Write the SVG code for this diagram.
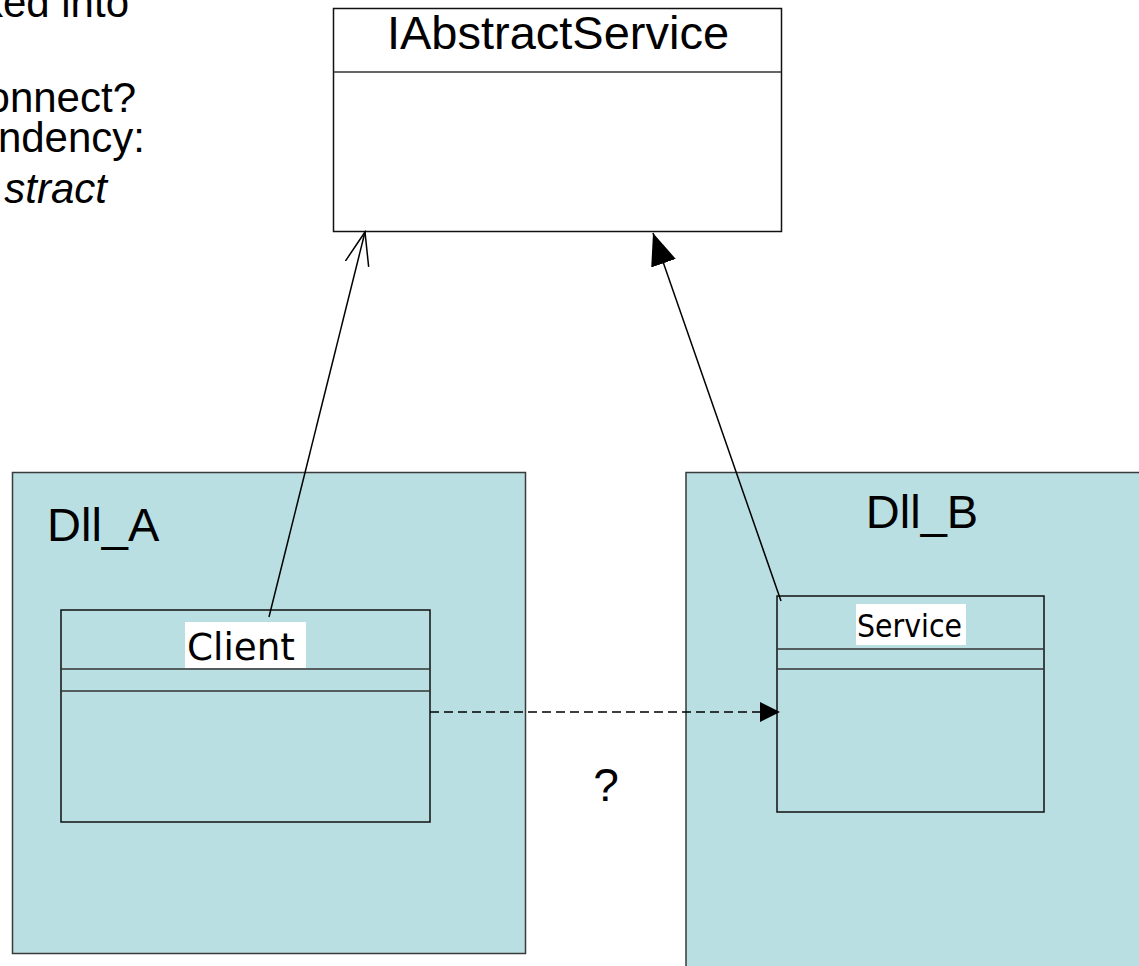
<svg xmlns="http://www.w3.org/2000/svg" width="1139" height="966" viewBox="0 0 1139 966">
<style>
.pkg{fill:#badfe2;stroke:#3a3a3a;stroke-width:1.5}
.cls{fill:none;stroke:#111;stroke-width:1.5}
.sep{stroke:#333;stroke-width:1.5}
.lbl{font-family:"Liberation Sans",Arial,sans-serif;fill:#000}
.dv{font-family:"DejaVu Sans",sans-serif;fill:#000}
.edge{fill:none;stroke:#000;stroke-width:1.5}
</style>
<defs>
<marker id="filled" markerUnits="userSpaceOnUse" markerWidth="34" markerHeight="28" refX="32" refY="13" orient="auto">
<path d="M0,0 L32,13 L0,26 Z" fill="#000"/>
</marker>
<marker id="open" markerUnits="userSpaceOnUse" markerWidth="36" markerHeight="30" refX="33" refY="15" orient="auto">
<path d="M0,3 L33,15 L0,27" fill="none" stroke="#000" stroke-width="1.5"/>
</marker>
<marker id="small" markerUnits="userSpaceOnUse" markerWidth="22" markerHeight="22" refX="20" refY="10" orient="auto">
<path d="M0,0 L20,10 L0,20 Z" fill="#000"/>
</marker>
</defs>
<rect width="1139" height="966" fill="#fff"/>
<g id="note">
<text class="lbl" x="129" y="17" font-size="42" text-anchor="end">ked into</text>
<text class="lbl" x="136" y="112" font-size="42" text-anchor="end">onnect?</text>
<text class="lbl" x="145" y="152" font-size="42" text-anchor="end">ndency:</text>
<text class="lbl" x="107" y="203" font-size="42" font-style="italic" text-anchor="end">stract</text>
</g>
<g id="IAbstractService">
<rect x="333.5" y="8.5" width="448" height="223" fill="#fff" stroke="#111" stroke-width="1.5"/>
<line class="sep" x1="333.5" y1="72" x2="781.5" y2="72"/>
<text class="lbl" x="558" y="49" font-size="47" text-anchor="middle">IAbstractService</text>
</g>
<g id="Dll_A">
<rect class="pkg" x="12.5" y="472.5" width="513" height="481"/>
<text class="lbl" x="47" y="541" font-size="47">Dll_A</text>
</g>
<g id="Dll_B">
<rect class="pkg" x="686" y="472.5" width="470" height="510"/>
<text class="lbl" x="922" y="528" font-size="47" text-anchor="middle">Dll_B</text>
</g>
<g id="Client">
<rect class="cls" x="61" y="610" width="369" height="212"/>
<line class="sep" x1="61" y1="669" x2="430" y2="669"/>
<line class="sep" x1="61" y1="691" x2="430" y2="691"/>
<rect x="185" y="622" width="121" height="46" fill="#fff"/>
<text class="dv" x="187" y="660" font-size="37" textLength="108" lengthAdjust="spacingAndGlyphs">Client</text>
</g>
<g id="Service">
<rect class="cls" x="777" y="596" width="267" height="216"/>
<line class="sep" x1="777" y1="649" x2="1044" y2="649"/>
<line class="sep" x1="777" y1="669" x2="1044" y2="669"/>
<rect x="856" y="604" width="110" height="41" fill="#fff"/>
<text class="dv" x="857" y="637" font-size="32" textLength="105" lengthAdjust="spacingAndGlyphs">Service</text>
</g>
<g id="connectors">
<line class="edge" x1="269" y1="617" x2="365" y2="232" marker-end="url(#open)"/>
<line class="edge" x1="781" y1="601" x2="653" y2="233" marker-end="url(#filled)"/>
<line class="edge" x1="430" y1="712" x2="780" y2="712" stroke-dasharray="9 5" marker-end="url(#small)"/>
<text class="lbl" x="606" y="801" font-size="46" text-anchor="middle">?</text>
</g>
</svg>
